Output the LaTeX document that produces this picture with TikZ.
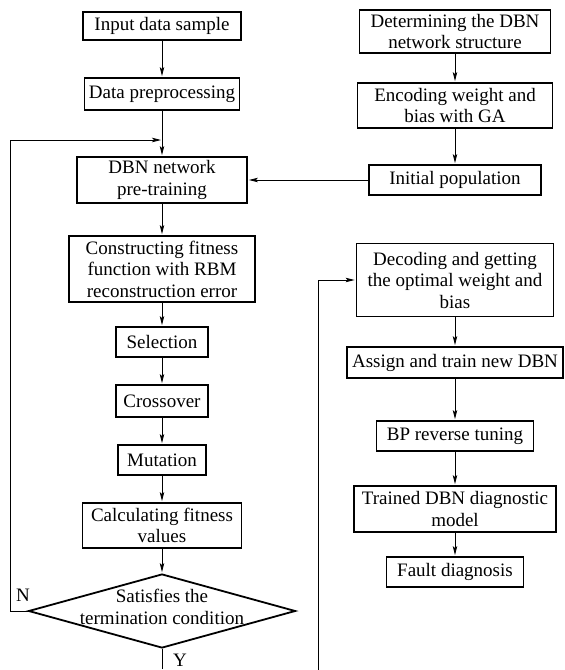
\documentclass[tikz,border=0pt]{standalone}
\usepackage{fontspec}
\setmainfont{Liberation Serif}
\usepackage{tikz}
\usetikzlibrary{
  arrows.meta,
  shapes.geometric,
}
\tikzset{
  >={Stealth[length=9pt,width=4.5pt,inset=2pt]},
  shorten >=1pt,
}

\begin{document}
\begin{tikzpicture}[x=1pt,y=-1pt,line width=0.9pt,
    font={\fontsize{19}{21.5}\selectfont},
    blk/.style={draw,rectangle,line width=1.8pt,align=center,inner xsep=2pt,inner ysep=1pt},
    cnd/.style={draw,diamond,line width=1.8pt,inner sep=0pt}]

        \useasboundingbox (0,0) rectangle (565,670);

        \node[blk,minimum width=158,minimum height=28]    (inp)     at (162,26)    {Input data sample};
        \node[blk,minimum width=155,minimum height=32]    (prep)    at (162,94)    {Data preprocessing};
        \node[blk,minimum width=170,minimum height=46]    (pretr)   at (162,180)   {DBN network\\pre-training};
        \node[blk,minimum width=186,minimum height=66]    (fitfn)   at (162,269)   {Constructing fitness\\function with RBM\\reconstruction error};
        \node[blk,minimum width=92,minimum height=30]     (sel)     at (162,342)   {Selection};
        \node[blk,minimum width=92,minimum height=32]     (cross)   at (162,401)   {Crossover};
        \node[blk,minimum width=88,minimum height=30]     (mut)     at (162,460)   {Mutation};
        \node[blk,minimum width=159,minimum height=45]    (calc)    at (162,525.5) {Calculating fitness\\values};
        \node[cnd,minimum width=267,minimum height=74]    (cond)    at (162,611)   {};
        \node[align=center]                               (condtxt) at (162,607)   {Satisfies the\\termination condition};

        \node[blk,minimum width=191,minimum height=43]    (dbn)     at (455,31.5)  {Determining the DBN\\network structure};
        \node[blk,minimum width=195,minimum height=45]    (enc)     at (455,105.5) {Encoding weight and\\bias with GA};
        \node[blk,minimum width=172,minimum height=30]    (init)    at (455,180)   {Initial population};
        \node[blk,minimum width=197,minimum height=73]    (dec)     at (455,280)   {Decoding and getting\\the optimal weight and\\bias};
        \node[blk,minimum width=216,minimum height=31]    (assign)  at (455,362.5) {Assign and train new DBN};
        \node[blk,minimum width=157,minimum height=30]    (bp)      at (455,436)   {BP reverse tuning};
        \node[blk,minimum width=202,minimum height=46]    (model)   at (455,509)   {Trained DBN diagnostic\\model};
        \node[blk,minimum width=137,minimum height=30]    (fault)   at (455,572)   {Fault diagnosis};

        \node (nlab) at (23,595)  {N};
        \node (ylab) at (180,660) {Y};

        \coordinate (lx)     at (10,140);
        \coordinate (loopin) at (162,140);
        \coordinate (ybot)   at (162,670);
        \coordinate (rbot)   at (318,670);

        \draw[->] (inp) -- (prep);
        \draw[->] (prep) -- (pretr);
        \draw[->] (pretr) -- (fitfn);
        \draw[->] (fitfn) -- (sel);
        \draw[->] (sel) -- (cross);
        \draw[->] (cross) -- (mut);
        \draw[->] (mut) -- (calc);
        \draw[->] (calc) -- (cond);
        \draw[->] (cond.west) -| (lx) -- (loopin);
        \draw (cond.south) -- (ybot);

        \draw[->] (dbn) -- (enc);
        \draw[->] (enc) -- (init);
        \draw[->] (init.west) -- (pretr.east);
        \draw[->] (rbot) |- (dec.west);
        \draw[->] (dec) -- (assign);
        \draw[->] (assign) -- (bp);
        \draw[->] (bp) -- (model);
        \draw[->] (model) -- (fault);

    \end{tikzpicture}
\end{document}
